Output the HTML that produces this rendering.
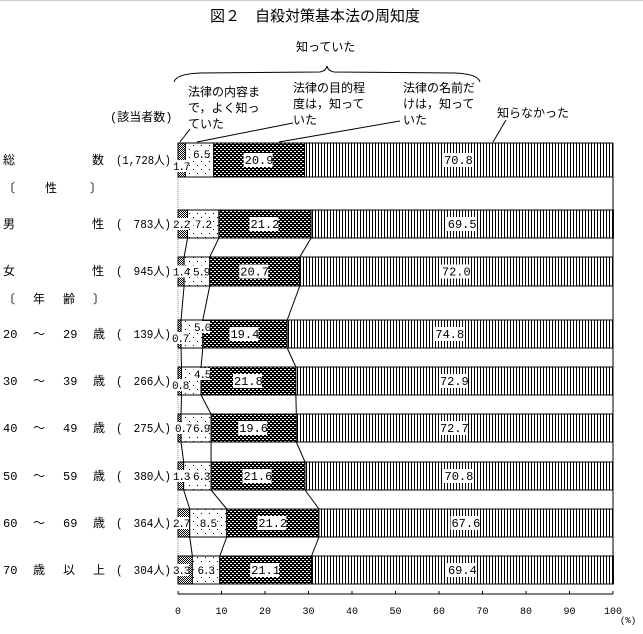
<!DOCTYPE html>
<html><head><meta charset="utf-8"><style>
html,body{margin:0;padding:0;background:#fff;}
svg{display:block;font-family:"Liberation Mono","Noto Sans CJK JP",monospace;}
text{font-size:12px;fill:#000;}
.sm{font-size:11px;letter-spacing:-1.2px;}
</style></head><body>
<svg width="643" height="634" viewBox="0 0 643 634" xmlns="http://www.w3.org/2000/svg">
<defs>
<pattern id="p1" width="2" height="2" patternUnits="userSpaceOnUse"><rect width="2" height="2" fill="#fff"/><rect width="1" height="1" fill="#000"/><rect x="1" y="1" width="1" height="1" fill="#000"/></pattern>
<pattern id="p2" width="8" height="8" patternUnits="userSpaceOnUse"><rect width="8" height="8" fill="#fff"/><rect x="1" y="1" width="1" height="1" fill="#000"/><rect x="5" y="5" width="1" height="1" fill="#000"/></pattern>
<pattern id="p3" width="4" height="4" patternUnits="userSpaceOnUse"><rect width="4" height="4" fill="#000"/><rect x="0" y="1" width="2" height="1" fill="#fff"/><rect x="2" y="3" width="2" height="1" fill="#fff"/></pattern>
<pattern id="p4" width="3" height="3" patternUnits="userSpaceOnUse"><rect width="3" height="3" fill="#fff"/><rect x="0" width="1" height="3" fill="#000"/></pattern>
</defs>
<rect x="0" y="0" width="643" height="1" fill="#ccc"/>
<text x="210" y="21" style="font-size:15px">図２　自殺対策基本法の周知度</text>
<text x="296" y="51">知っていた</text>
<path d="M174,82 Q176,74 200,73 L320,72 Q326,71 327,66 Q328,71 334,72 L455,73 Q478,74 480,82" fill="none" stroke="#000"/>
<text x="188" y="96">法律の内容ま</text><text x="188" y="112">で，よく知っ</text><text x="188" y="128">ていた</text>
<text x="293" y="92">法律の目的程</text><text x="293" y="108">度は，知って</text><text x="293" y="124">いた</text>
<text x="403" y="92">法律の名前だ</text><text x="403" y="108">けは，知って</text><text x="403" y="124">いた</text>
<text x="497" y="117">知らなかった</text>
<text x="110" y="121">(該当者数)</text>
<g stroke="#000" fill="none">
<line x1="190" y1="129" x2="180" y2="142"/>
<line x1="293" y1="123" x2="197" y2="142"/>
<line x1="400" y1="121" x2="279" y2="142"/>
<line x1="506" y1="120" x2="493" y2="142"/>
</g>
<line x1="178" y1="143" x2="178" y2="584" stroke="#888" stroke-dasharray="1,1"/>
<line x1="613" y1="143" x2="613" y2="584" stroke="#000"/>
<g id="bars"></g>
<g id="labels"></g>
<line x1="178" y1="594" x2="613" y2="594" stroke="#000"/>
<g id="ticks"></g>
<text x="620" y="623" style="font-size:9px">(%)</text>
<text x="3" y="164">総</text><text x="92" y="164">数</text><text x="116" y="164" textLength="55" lengthAdjust="spacingAndGlyphs">(1,728人)</text>
<text x="3" y="192">〔</text><text x="45" y="192">性</text><text x="90" y="192">〕</text>
<text x="3" y="228">男</text><text x="92" y="228">性</text><text x="116" y="228" textLength="55" lengthAdjust="spacingAndGlyphs">(　783人)</text>
<text x="3" y="275">女</text><text x="92" y="275">性</text><text x="116" y="275" textLength="55" lengthAdjust="spacingAndGlyphs">(　945人)</text>
<text x="3" y="303">〔</text><text x="33" y="303">年</text><text x="63" y="303">齢</text><text x="93" y="303">〕</text>
<text x="3" y="338">20</text><text x="33" y="338">〜</text><text x="63" y="338">29</text><text x="93" y="338">歳</text><text x="116" y="338" textLength="55" lengthAdjust="spacingAndGlyphs">(　139人)</text>
<text x="3" y="385">30</text><text x="33" y="385">〜</text><text x="63" y="385">39</text><text x="93" y="385">歳</text><text x="116" y="385" textLength="55" lengthAdjust="spacingAndGlyphs">(　266人)</text>
<text x="3" y="432">40</text><text x="33" y="432">〜</text><text x="63" y="432">49</text><text x="93" y="432">歳</text><text x="116" y="432" textLength="55" lengthAdjust="spacingAndGlyphs">(　275人)</text>
<text x="3" y="480">50</text><text x="33" y="480">〜</text><text x="63" y="480">59</text><text x="93" y="480">歳</text><text x="116" y="480" textLength="55" lengthAdjust="spacingAndGlyphs">(　380人)</text>
<text x="3" y="527">60</text><text x="33" y="527">〜</text><text x="63" y="527">69</text><text x="93" y="527">歳</text><text x="116" y="527" textLength="55" lengthAdjust="spacingAndGlyphs">(　364人)</text>
<text x="3" y="574">70</text><text x="33" y="574">歳</text><text x="63" y="574">以</text><text x="93" y="574">上</text><text x="116" y="574" textLength="55" lengthAdjust="spacingAndGlyphs">(　304人)</text>
</svg>
<script>
var NS="http://www.w3.org/2000/svg";
function X(p){return 178+4.35*p;}
var rows=[[143,177,[1.7,6.5,20.9,70.8]],[210,238,[2.2,7.2,21.2,69.5]],[257,286,[1.4,5.9,20.7,72.0]],
[320,348,[0.7,5.0,19.4,74.8]],[367,395,[0.8,4.5,21.8,72.9]],[414,442,[0.7,6.9,19.6,72.7]],
[462,490,[1.3,6.3,21.6,70.8]],[509,537,[2.7,8.5,21.2,67.6]],[556,584,[3.3,6.3,21.1,69.4]]];
var g=document.getElementById("bars"),L=document.getElementById("labels");
function el(p,n,a,t){var e=document.createElementNS(NS,n);for(var k in a)e.setAttribute(k,a[k]);if(t)e.textContent=t;p.appendChild(e);return e;}
rows.forEach(function(r,i){
 var y0=r[0],y1=r[1],v=r[2],c=0,cy=(y0+y1)/2;
 v.forEach(function(d,j){
  var a=X(c),b=X(c+d);
  el(g,"rect",{x:a,y:y0,width:b-a,height:y1-y0,fill:"url(#p"+(j+1)+")",stroke:"#000","stroke-width":1});
  var s=d.toFixed(1),w=17,tx;
  if(j==0){tx=173;}
  else if(j==1){tx=Math.max(a+(b-a)/2-w/2,193);}
  else {w=s.length*7+1;tx=a+(b-a)/2-w/2;}
  var ty=cy+4;
  if(j==0&&i==0)ty=cy+10;
  if(j==1&&i==0)ty=cy-2;
  if(j==1&&(i==3||i==4)){ty=cy-3;tx=Math.max(tx,194);}
  if(j==0&&(i==3||i==4)){ty=cy+8;tx=172;}
  if(j==1&&i==5)tx=193;
  if(j==0&&i==5)tx=175;
  if(j>=2){el(L,"rect",{x:tx-1,y:cy-7,width:w,height:14,fill:"#fff"});el(L,"text",{x:tx,y:ty},s);}
  else {el(L,"rect",{x:tx-1,y:ty-10,width:17,height:12,fill:"#fff"});el(L,"text",{x:tx,y:ty,"class":"sm"},s);}
  c+=d;
 });
});
for(var i=1;i<rows.length-1;i++){
 var a=rows[i],b=rows[i+1],ca=0,cb=0;
 for(var j=0;j<3;j++){ca+=a[2][j];cb+=b[2][j];
  el(g,"line",{x1:X(ca),y1:a[1],x2:X(cb),y2:b[0],stroke:"#000"});}
}
var t=document.getElementById("ticks");
for(var k=0;k<=10;k++){var x=X(k*10);
 el(t,"line",{x1:x,x2:x,y1:591,y2:594,stroke:"#000"});
 el(t,"text",{x:x,y:614,"text-anchor":"middle",style:"font-size:10px"},String(k*10));}
</script>
</body></html>
